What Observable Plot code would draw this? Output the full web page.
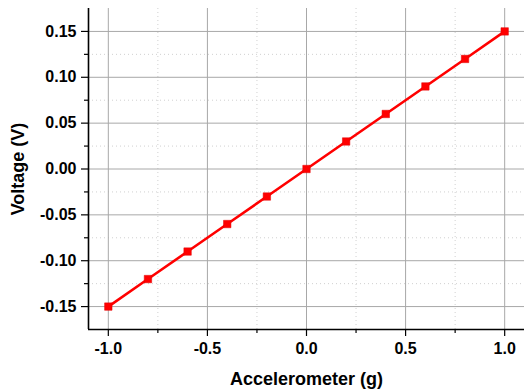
<!DOCTYPE html>
<html>
<head>
<meta charset="utf-8">
<script src="https://cdn.jsdelivr.net/npm/d3@7"></script>
<script src="https://cdn.jsdelivr.net/npm/@observablehq/plot@0.6"></script>
<style>
  html, body { margin: 0; padding: 0; background: #fff; }
  #chart svg { display: block; }
  g[aria-label="x-axis label"] text, g[aria-label="y-axis label"] text { font-size: 18px; }
</style>
</head>
<body>
<div id="chart"></div>
<script>
const accel = [-1.0, -0.8, -0.6, -0.4, -0.2, 0.0, 0.2, 0.4, 0.6, 0.8, 1.0];
const voltage = [-0.15, -0.12, -0.09, -0.06, -0.03, 0.0, 0.03, 0.06, 0.09, 0.12, 0.15];
const xTicks = [-1.0, -0.5, 0.0, 0.5, 1.0];
const xMinor = [-0.75, -0.25, 0.25, 0.75];
const yTicks = [-0.15, -0.10, -0.05, 0.00, 0.05, 0.10, 0.15];
const yMinor = [-0.125, -0.075, -0.025, 0.025, 0.075, 0.125];
const xLabel = "Accelerometer (g)";
const yLabel = "Voltage (V)";

const data = accel.map((x, i) => ({x, y: voltage[i]}));
const xDomain = [-1.1, 1.1];
const yDomain = [-0.175, 0.175];

const chart = Plot.plot({
  width: 526,
  height: 392,
  marginLeft: 88,
  marginRight: 2,
  marginTop: 8,
  marginBottom: 63,
  style: {fontFamily: "'Liberation Sans', Arial, sans-serif", background: "#fff"},
  x: {domain: xDomain},
  y: {domain: yDomain},
  marks: [
    Plot.gridX(xMinor, {stroke: "#d0d0d0", strokeOpacity: 1, strokeDasharray: "1,3"}),
    Plot.gridY(yMinor, {stroke: "#d0d0d0", strokeOpacity: 1, strokeDasharray: "1,3"}),
    Plot.gridX(xTicks, {stroke: "#a8a8a8", strokeOpacity: 1}),
    Plot.gridY(yTicks, {stroke: "#a8a8a8", strokeOpacity: 1}),
    Plot.axisX(xMinor, {tickSize: 4, tickFormat: () => "", stroke: "#000", strokeWidth: 1.2, label: null}),
    Plot.axisY(yMinor, {tickSize: 4, tickFormat: () => "", stroke: "#000", strokeWidth: 1.2, label: null}),
    Plot.axisX(xTicks, {
      tickSize: 7, tickPadding: 6, tickFormat: d => d.toFixed(1),
      fontSize: 16, fontWeight: "bold", stroke: "#000", strokeWidth: 1.2,
      label: xLabel, labelAnchor: "center", labelArrow: "none", labelOffset: 55
    }),
    Plot.axisY(yTicks, {
      tickSize: 7, tickPadding: 5, tickFormat: d => d.toFixed(2),
      fontSize: 16, fontWeight: "bold", stroke: "#000", strokeWidth: 1.2,
      label: yLabel, labelAnchor: "center", labelArrow: "none", labelOffset: 77
    }),
    Plot.ruleX([xDomain[0]], {stroke: "#000", strokeWidth: 1.6}),
    Plot.ruleY([yDomain[0]], {stroke: "#000", strokeWidth: 1.6}),
    Plot.line(data, {x: "x", y: "y", stroke: "#ff0000", strokeWidth: 2.6}),
    Plot.dot(data, {x: "x", y: "y", symbol: "square", r: 4.2, fill: "#ff0000", stroke: "#e00000", strokeWidth: 0.5})
  ]
});
document.getElementById("chart").appendChild(chart);
</script>
</body>
</html>
